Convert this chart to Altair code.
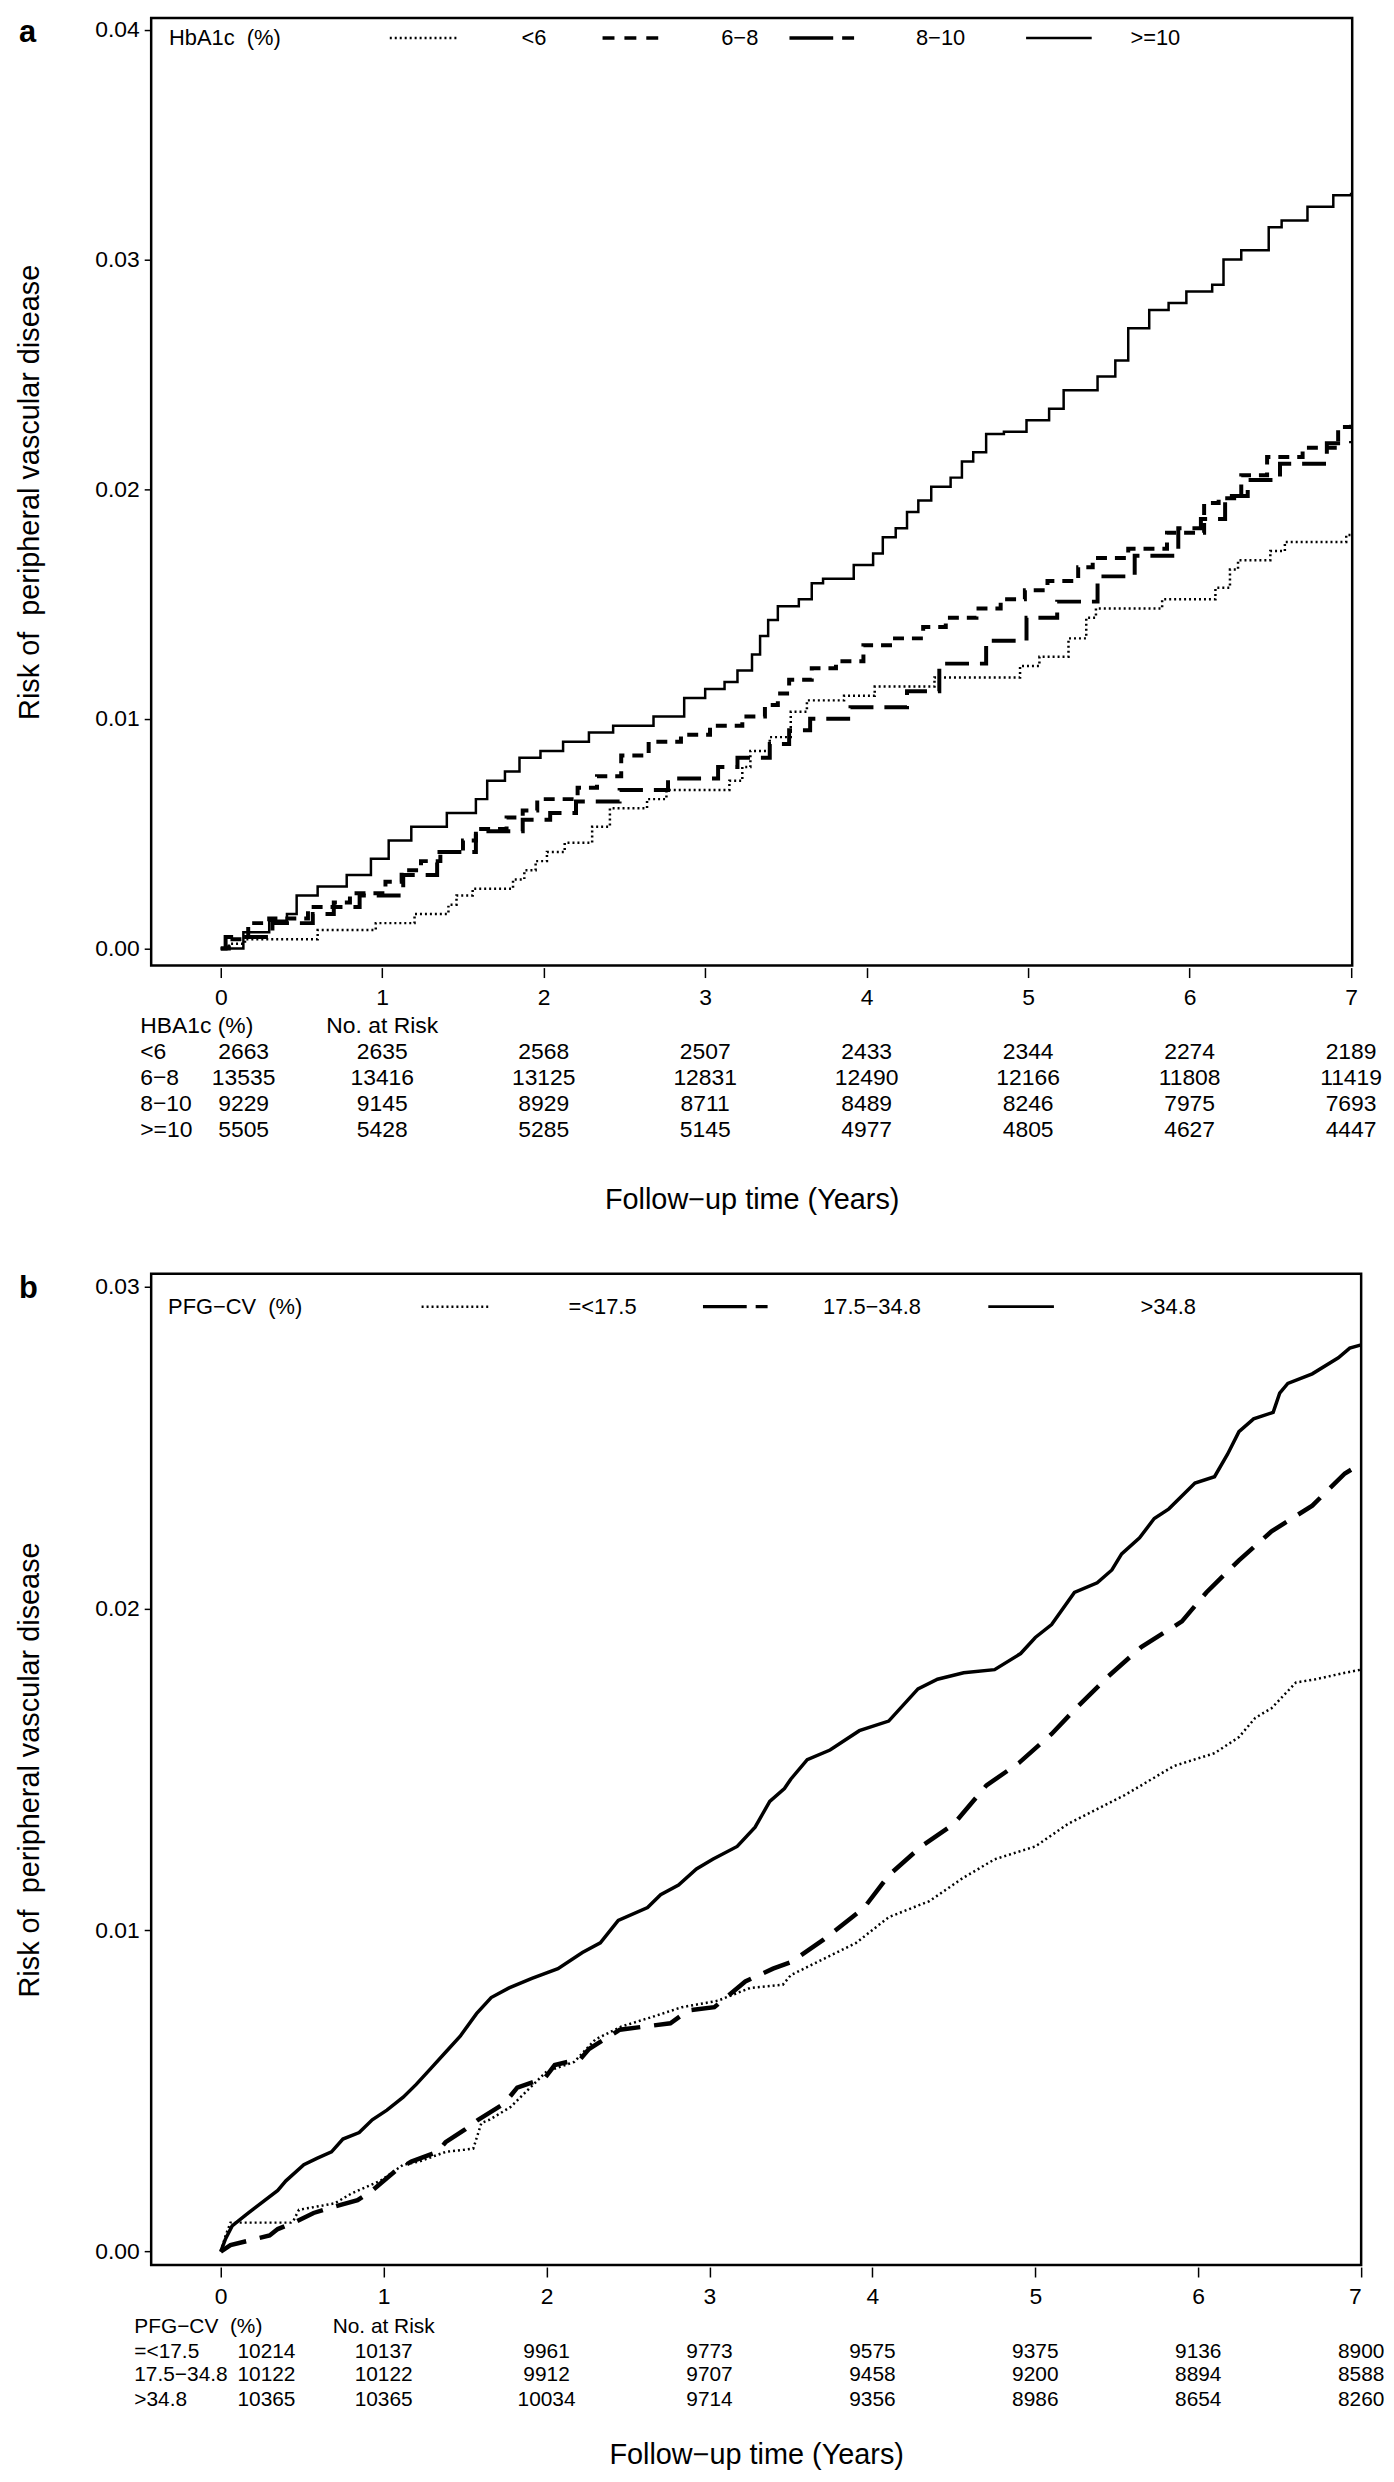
import altair as alt
import pandas as pd

FONT = "Liberation Sans"

# ---------------- Panel a: HbA1c ----------------
a_lt6 = [(0, 0), (0.05, 0.0002), (0.15, 0.0004), (0.60, 0.0008), (0.96, 0.0011), (1.20, 0.0015),
         (1.41, 0.0019), (1.46, 0.0023), (1.56, 0.0026), (1.81, 0.0030), (1.88, 0.0034), (1.95, 0.0038),
         (2.02, 0.0042), (2.13, 0.0046), (2.30, 0.0053), (2.41, 0.0061), (2.64, 0.0065), (2.76, 0.0069),
         (3.15, 0.0073), (3.23, 0.0079), (3.28, 0.0086), (3.40, 0.0092), (3.53, 0.0103), (3.63, 0.0108),
         (3.86, 0.0110), (4.05, 0.0114), (4.42, 0.0118), (4.95, 0.0123), (5.07, 0.0127), (5.25, 0.0135),
         (5.36, 0.0144), (5.42, 0.0148), (5.83, 0.0152), (6.16, 0.0157), (6.25, 0.0165), (6.30, 0.0169),
         (6.50, 0.0173), (6.59, 0.0177), (6.97, 0.0180), (7.0, 0.0180)]
a_6_8 = [(0, 0), (0.05, 0.0004), (0.17, 0.0011), (0.30, 0.0013), (0.54, 0.0018), (0.70, 0.0020),
         (0.80, 0.0024), (1.02, 0.0029), (1.12, 0.0034), (1.24, 0.0038), (1.36, 0.0042), (1.50, 0.0047),
         (1.58, 0.0052), (1.77, 0.0057), (1.87, 0.0060), (1.96, 0.0065), (2.21, 0.0070), (2.33, 0.0075),
         (2.48, 0.0084), (2.65, 0.0090), (2.85, 0.0093), (3.03, 0.0097), (3.23, 0.0101), (3.37, 0.0106),
         (3.45, 0.0111), (3.52, 0.0117), (3.66, 0.0122), (3.81, 0.0125), (3.98, 0.0132), (4.16, 0.0135),
         (4.35, 0.0140), (4.49, 0.0144), (4.68, 0.0148), (4.83, 0.0152), (4.98, 0.0156), (5.12, 0.0160),
         (5.31, 0.0166), (5.40, 0.0170), (5.62, 0.0174), (5.86, 0.0181), (6.09, 0.0194), (6.18, 0.0196),
         (6.32, 0.0206), (6.48, 0.0214), (6.70, 0.0218), (6.92, 0.0227), (7.0, 0.0228)]
a_8_10 = [(0, 0), (0.03, 0.0005), (0.32, 0.0011), (0.57, 0.0015), (0.70, 0.0018), (0.86, 0.0023),
          (1.13, 0.0032), (1.34, 0.0042), (1.58, 0.0051), (1.87, 0.0056), (2.04, 0.0059), (2.20, 0.0064),
          (2.47, 0.0069), (2.77, 0.0074), (3.08, 0.0079), (3.20, 0.0083), (3.40, 0.0089), (3.52, 0.0095),
          (3.65, 0.0100), (3.90, 0.0105), (4.25, 0.0112), (4.45, 0.0124), (4.74, 0.0134), (4.99, 0.0144),
          (5.18, 0.0151), (5.43, 0.0162), (5.66, 0.0171), (5.93, 0.0183), (6.07, 0.0187), (6.22, 0.0197),
          (6.36, 0.0204), (6.56, 0.0211), (6.85, 0.0220), (7.0, 0.0221)]
a_ge10 = [(0, 0), (0.14, 0.0007), (0.30, 0.0012), (0.41, 0.0015), (0.47, 0.0023), (0.60, 0.0027),
          (0.78, 0.0032), (0.93, 0.0039), (1.04, 0.0047), (1.18, 0.0053), (1.40, 0.0059), (1.58, 0.0065),
          (1.65, 0.0073), (1.76, 0.0077), (1.85, 0.0083), (1.98, 0.0086), (2.12, 0.0090), (2.28, 0.0094),
          (2.43, 0.0097), (2.68, 0.0101), (2.87, 0.0109), (3.00, 0.0113), (3.12, 0.0116), (3.20, 0.0121),
          (3.29, 0.0128), (3.34, 0.0136), (3.39, 0.0143), (3.45, 0.0149), (3.58, 0.0152), (3.66, 0.0159),
          (3.73, 0.0161), (3.92, 0.0167), (4.04, 0.0172), (4.10, 0.0179), (4.18, 0.0183), (4.25, 0.0190),
          (4.32, 0.0195), (4.40, 0.0201), (4.52, 0.0205), (4.59, 0.0212), (4.66, 0.0216), (4.74, 0.0224),
          (4.85, 0.0225), (4.99, 0.0230), (5.13, 0.0235), (5.22, 0.0243), (5.43, 0.0249), (5.54, 0.0256),
          (5.62, 0.0270), (5.75, 0.0278), (5.87, 0.0281), (5.98, 0.0286), (6.14, 0.0289), (6.21, 0.0300),
          (6.32, 0.0304), (6.49, 0.0314), (6.57, 0.0317), (6.73, 0.0323), (6.89, 0.0328), (7.0, 0.0329)]

a_groups = ["<6", "6\u22128", "8\u221210", ">=10"]
a_risk_times = [0, 1, 2, 3, 4, 5, 6, 7]
a_n_lt6 = [2663, 2635, 2568, 2507, 2433, 2344, 2274, 2189]
a_n_6_8 = [13535, 13416, 13125, 12831, 12490, 12166, 11808, 11419]
a_n_8_10 = [9229, 9145, 8929, 8711, 8489, 8246, 7975, 7693]
a_n_ge10 = [5505, 5428, 5285, 5145, 4977, 4805, 4627, 4447]

# ---------------- Panel b: PFG-CV ----------------
b_le175 = [(0, 0), (0.03, 0.0005), (0.06, 0.0009), (0.43, 0.0009), (0.45, 0.0010), (0.48, 0.0013),
           (0.70, 0.0015), (0.80, 0.0018), (0.98, 0.0022), (1.12, 0.0027), (1.22, 0.0028), (1.38, 0.0031),
           (1.55, 0.0032), (1.60, 0.0040), (1.65, 0.0041), (1.78, 0.0045), (1.90, 0.0051), (2.00, 0.0056),
           (2.17, 0.0059), (2.30, 0.0066), (2.46, 0.0070), (2.65, 0.0073), (2.83, 0.0076), (3.05, 0.0078),
           (3.25, 0.0082), (3.45, 0.0083), (3.50, 0.0086), (3.70, 0.0091), (3.90, 0.0096), (4.10, 0.0104),
           (4.35, 0.0109), (4.55, 0.0116), (4.75, 0.0122), (5.00, 0.0126), (5.20, 0.0133), (5.55, 0.0142),
           (5.85, 0.0151), (6.10, 0.0155), (6.25, 0.0160), (6.35, 0.0166), (6.45, 0.0169), (6.60, 0.0177),
           (6.72, 0.0178), (6.90, 0.0180), (7.0, 0.0181)]
b_mid = [(0, 0), (0.06, 0.0002), (0.30, 0.0005), (0.35, 0.0007), (0.45, 0.0009), (0.57, 0.0012),
         (0.70, 0.0014), (0.84, 0.0016), (0.93, 0.0019), (1.07, 0.0025), (1.17, 0.0028), (1.33, 0.0031),
         (1.38, 0.0034), (1.50, 0.0038), (1.58, 0.0041), (1.74, 0.0046), (1.82, 0.0051), (1.99, 0.0054),
         (2.05, 0.0058), (2.21, 0.0060), (2.26, 0.0063), (2.45, 0.0069), (2.76, 0.0071), (2.87, 0.0075),
         (3.03, 0.0076), (3.22, 0.0084), (3.39, 0.0088), (3.50, 0.0090), (3.70, 0.0097), (3.95, 0.0107),
         (4.10, 0.0117), (4.30, 0.0126), (4.50, 0.0133), (4.70, 0.0145), (4.90, 0.0152), (5.10, 0.0161),
         (5.25, 0.0169), (5.45, 0.0179), (5.65, 0.0188), (5.90, 0.0196), (6.05, 0.0205), (6.25, 0.0215),
         (6.45, 0.0224), (6.70, 0.0232), (6.90, 0.0242), (7.0, 0.0245)]
b_gt348 = [(0, 0), (0.03, 0.0004), (0.07, 0.0008), (0.17, 0.0012), (0.22, 0.0014), (0.35, 0.0019),
           (0.40, 0.0022), (0.51, 0.0027), (0.59, 0.0029), (0.68, 0.0031), (0.75, 0.0035), (0.85, 0.0037),
           (0.93, 0.0041), (1.02, 0.0044), (1.12, 0.0048), (1.20, 0.0052), (1.29, 0.0057), (1.38, 0.0062),
           (1.47, 0.0067), (1.57, 0.0074), (1.66, 0.0079), (1.77, 0.0082), (1.91, 0.0085), (2.07, 0.0088),
           (2.22, 0.0093), (2.33, 0.0096), (2.44, 0.0103), (2.62, 0.0107), (2.70, 0.0111), (2.81, 0.0114),
           (2.92, 0.0119), (3.02, 0.0122), (3.17, 0.0126), (3.28, 0.0132), (3.37, 0.0140), (3.46, 0.0144),
           (3.50, 0.0147), (3.60, 0.0153), (3.74, 0.0156), (3.92, 0.0162), (4.10, 0.0165), (4.28, 0.0175),
           (4.40, 0.0178), (4.56, 0.0180), (4.75, 0.0181), (4.91, 0.0186), (5.00, 0.0191), (5.10, 0.0195),
           (5.24, 0.0205), (5.38, 0.0208), (5.47, 0.0212), (5.53, 0.0217), (5.64, 0.0222), (5.73, 0.0228),
           (5.82, 0.0231), (5.98, 0.0239), (6.10, 0.0241), (6.18, 0.0248), (6.25, 0.0255), (6.34, 0.0259),
           (6.46, 0.0261), (6.50, 0.0267), (6.55, 0.0270), (6.70, 0.0273), (6.86, 0.0278), (6.93, 0.0281),
           (7.0, 0.0282)]

b_groups = ["=<17.5", "17.5\u221234.8", ">34.8"]
b_risk_times = [0, 1, 2, 3, 4, 5, 6, 7]
b_n_le175 = [10214, 10137, 9961, 9773, 9575, 9375, 9136, 8900]
b_n_mid = [10122, 10122, 9912, 9707, 9458, 9200, 8894, 8588]
b_n_gt348 = [10365, 10365, 10034, 9714, 9356, 8986, 8654, 8260]

# ---------------- styles (curve style, legend-sample style) ----------------
DOT = (dict(strokeDash=[2, 3], strokeWidth=2.5), dict(strokeDash=[2, 3], strokeWidth=2.5))
DASH = (dict(strokeDash=[11, 8], strokeWidth=4), dict(strokeDash=[12, 10], strokeWidth=3.5))
LONGDASH_A = (dict(strokeDash=[24, 11], strokeWidth=4), dict(strokeDash=[44, 9, 12, 9], strokeWidth=3.5))
LONGDASH_B = (dict(strokeDash=[28, 14], strokeWidth=4.5), dict(strokeDash=[44, 9, 12, 9], strokeWidth=3.5))
SOLID_A = (dict(strokeWidth=2.5), dict(strokeWidth=2.5))
SOLID_B = (dict(strokeWidth=3.5), dict(strokeWidth=3))

XTITLE = "Follow\u2212up time (Years)"
YTITLE = "Risk of\u00a0 peripheral vascular disease"


def build_panel(letter, series, styles, interp, groups, legend_title, legend_cfg,
                table_title, counts, times, width, height, xdom, ydom, yvals,
                legend_y, label_x, t0_dx, header_y, row_ys, row_fs, xtitle_y):
    xenc = alt.X("t:Q", scale=alt.Scale(domain=xdom, nice=False, zero=False),
                 axis=alt.Axis(values=list(range(8)), format="d", title=XTITLE,
                               titleFontSize=29, titleFontWeight="normal", titleFont=FONT,
                               titleColor="black", titleBaseline="middle", titleY=xtitle_y,
                               labelFont=FONT, labelFontSize=23, labelColor="black",
                               labelPadding=9, tickSize=10, tickWidth=1.5, tickColor="black",
                               offset=2, domain=False, grid=False))
    yenc = alt.Y("risk:Q", scale=alt.Scale(domain=ydom, nice=False, zero=False),
                 axis=alt.Axis(values=yvals, format=".2f", title=YTITLE,
                               titleFontSize=29, titleFontWeight="normal", titleFont=FONT,
                               titleColor="black", titleX=-107,
                               labelFont=FONT, labelFontSize=23, labelColor="black",
                               labelPadding=5, tickSize=7, tickWidth=1.5, tickColor="black",
                               domain=False, grid=False))
    layers = []
    for pairs, (st, _) in zip(series, styles):
        df = pd.DataFrame(pairs, columns=["t", "risk"])
        layers.append(alt.Chart(df).mark_line(color="black", interpolate=interp, clip=True, **st)
                      .encode(x=xenc, y=yenc))

    # panel letter
    layers.append(alt.Chart(pd.DataFrame({"s": [letter]})).mark_text(
        font=FONT, fontSize=31, fontWeight="bold", align="left", baseline="middle", color="black")
        .encode(x=alt.value(-133), y=alt.value(15), text="s:N"))

    # legend inside the plot
    layers.append(alt.Chart(pd.DataFrame({"s": [legend_title]})).mark_text(
        font=FONT, fontSize=22, align="left", baseline="middle", color="black")
        .encode(x=alt.value(legend_cfg["title_x"]), y=alt.value(legend_y), text="s:N"))
    for g, (_, lst), (x1, x2, lx) in zip(groups, styles, legend_cfg["items"]):
        layers.append(alt.Chart(pd.DataFrame({"k": [0]})).mark_rule(color="black", **lst)
                      .encode(x=alt.value(x1), x2=alt.value(x2), y=alt.value(legend_y)))
        layers.append(alt.Chart(pd.DataFrame({"s": [g]})).mark_text(
            font=FONT, fontSize=22, align="center", baseline="middle", color="black")
            .encode(x=alt.value(lx), y=alt.value(legend_y), text="s:N"))

    # number-at-risk table
    layers.append(alt.Chart(pd.DataFrame({"s": [table_title]})).mark_text(
        font=FONT, fontSize=row_fs, align="left", baseline="middle", color="black")
        .encode(x=alt.value(label_x), y=alt.value(header_y), text="s:N"))
    layers.append(alt.Chart(pd.DataFrame({"t": [1], "s": ["No. at Risk"]})).mark_text(
        font=FONT, fontSize=row_fs, align="center", baseline="middle", color="black")
        .encode(x=xenc, y=alt.value(header_y), text="s:N"))
    for g, ns, ry in zip(groups, counts, row_ys):
        layers.append(alt.Chart(pd.DataFrame({"s": [g]})).mark_text(
            font=FONT, fontSize=row_fs, align="left", baseline="middle", color="black")
            .encode(x=alt.value(label_x), y=alt.value(ry), text="s:N"))
        layers.append(alt.Chart(pd.DataFrame({"t": times[:1], "n": ns[:1]})).mark_text(
            font=FONT, fontSize=row_fs, align="center", baseline="middle", color="black", dx=t0_dx)
            .encode(x=xenc, y=alt.value(ry), text=alt.Text("n:Q", format="d")))
        layers.append(alt.Chart(pd.DataFrame({"t": times[1:], "n": ns[1:]})).mark_text(
            font=FONT, fontSize=row_fs, align="center", baseline="middle", color="black")
            .encode(x=xenc, y=alt.value(ry), text=alt.Text("n:Q", format="d")))

    return alt.layer(*layers).properties(width=width, height=height)


panel_a = build_panel(
    "a", [a_lt6, a_6_8, a_8_10, a_ge10], [DOT, DASH, LONGDASH_A, SOLID_A], "step-after",
    a_groups, "HbA1c\u00a0 (%)",
    {"title_x": 18, "items": [(240, 307, 385), (454, 519, 592), (642, 716, 794), (880, 946, 1010)]},
    "HBA1c (%)", [a_n_lt6, a_n_6_8, a_n_8_10, a_n_ge10], a_risk_times,
    1208, 953, [-0.431, 7.007], [-0.00075, 0.04051], [0, 0.01, 0.02, 0.03, 0.04],
    legend_y=20, label_x=-11, t0_dx=23, header_y=1014, row_ys=[1040, 1066, 1092, 1118],
    row_fs=23, xtitle_y=233)

panel_b = build_panel(
    "b", [b_le175, b_mid, b_gt348], [DOT, LONGDASH_B, SOLID_B], "linear",
    b_groups, "PFG\u2212CV\u00a0 (%)",
    {"title_x": 17, "items": [(272, 339, 454), (555, 623, 725), (842, 908, 1023)]},
    "PFG\u2212CV\u00a0 (%)", [b_n_le175, b_n_mid, b_n_gt348], b_risk_times,
    1217, 997, [-0.427, 7.0], [-0.00042, 0.03041], [0, 0.01, 0.02, 0.03],
    legend_y=33, label_x=-17, t0_dx=46, header_y=1059, row_ys=[1084, 1108, 1133],
    row_fs=21, xtitle_y=189)

chart = alt.vconcat(panel_a, panel_b, spacing=310, bounds="flush").resolve_scale(
    x="independent", y="independent"
).properties(
    padding={"left": 6, "top": 0, "right": 0, "bottom": 0},
    background="white"
).configure_view(
    stroke="black", strokeWidth=2.5
)

chart.save("out.html", embed_options={"renderer": "svg", "actions": False})
